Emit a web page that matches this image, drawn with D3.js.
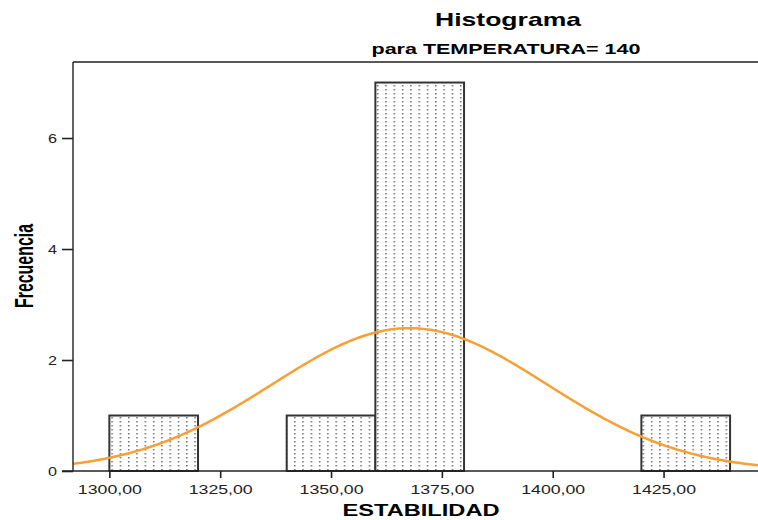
<!DOCTYPE html>
<html>
<head>
<meta charset="utf-8">
<script src="https://cdn.jsdelivr.net/npm/d3@7"></script>
<style>
  body { margin: 0; background: #fff; }
  text { font-family: "Liberation Sans", Arial, sans-serif; }
</style>
</head>
<body>
<div id="visual"></div>
<script>
// Histogram bins (lower edge, upper edge) and counts
const binStart = [1300, 1340, 1360, 1420];
const binEnd = [1320, 1360, 1380, 1440];
const counts = [1, 1, 7, 1];
const xTicks = [1300, 1325, 1350, 1375, 1400, 1425];
const yTicks = [0, 2, 4, 6];
// Normal curve parameters
const meanVal = 1367.7;
const sdVal = 31;

function drawChart() {
  const width = 758, height = 520;
  const left = 73, top = 62, bottom = 471, right = 758;

  const svg = d3.select("#visual").append("svg")
    .attr("width", width).attr("height", height);

  const x = d3.scaleLinear().domain([1291.8, 1446.3]).range([left, right]);
  const y = d3.scaleLinear().domain([0, 7.37]).range([bottom, top]);

  // dotted fill pattern
  const defs = svg.append("defs");
  const pat = defs.append("pattern")
    .attr("id", "dots")
    .attr("patternUnits", "userSpaceOnUse")
    .attr("width", 8.3).attr("height", 4)
    .attr("x", x(1300) + 2);
  pat.append("rect").attr("width", 8.3).attr("height", 4).attr("fill", "#fff");
  pat.append("rect").attr("x", 0).attr("y", 1).attr("width", 1.5).attr("height", 1.5).attr("fill", "#707070");

  const data = binStart.map((s, i) => ({ s: s, e: binEnd[i], c: counts[i] }));

  svg.selectAll("rect.bar")
    .data(data)
    .enter()
    .append("rect")
    .attr("class", "bar")
    .attr("x", d => x(d.s))
    .attr("y", d => y(d.c))
    .attr("width", d => x(d.e) - x(d.s))
    .attr("height", d => y(0) - y(d.c))
    .attr("fill", "url(#dots)")
    .attr("stroke", "#333")
    .attr("stroke-width", 2);

  // normal curve
  const n = d3.sum(counts);
  const binW = 20;
  const pts = d3.range(1291.8, 1446.4, 0.5).map(v => [v,
    n * binW / (sdVal * Math.sqrt(2 * Math.PI)) * Math.exp(-Math.pow(v - meanVal, 2) / (2 * sdVal * sdVal))]);
  svg.append("path")
    .datum(pts)
    .attr("fill", "none")
    .attr("stroke", "#f7a035")
    .attr("stroke-width", 2.5)
    .attr("d", d3.line().x(d => x(d[0])).y(d => y(d[1])));

  // frame top line
  svg.append("line")
    .attr("x1", left).attr("x2", right).attr("y1", top).attr("y2", top)
    .attr("stroke", "#222").attr("stroke-width", 1.4);

  // axes
  const yAxis = svg.append("g")
    .attr("transform", `translate(${left},0)`)
    .call(d3.axisLeft(y).tickValues(yTicks).tickSize(11).tickPadding(5).tickFormat(d3.format("d")));
  yAxis.select(".domain").remove();
  yAxis.append("line").attr("x1", 0).attr("x2", 0).attr("y1", top).attr("y2", bottom)
    .attr("stroke", "#222").attr("stroke-width", 1.4);
  yAxis.selectAll(".tick text")
    .attr("textLength", 9).attr("lengthAdjust", "spacingAndGlyphs");

  const xAxis = svg.append("g")
    .attr("transform", `translate(0,${bottom})`)
    .call(d3.axisBottom(x).tickValues(xTicks).tickSize(7).tickPadding(6)
      .tickFormat(d => d3.format(".2f")(d).replace(".", ",")));
  xAxis.select(".domain").remove();
  xAxis.append("line").attr("x1", left - 11).attr("x2", right).attr("y1", 0).attr("y2", 0)
    .attr("stroke", "#222").attr("stroke-width", 1.4);
  xAxis.selectAll(".tick text")
    .attr("textLength", 64).attr("lengthAdjust", "spacingAndGlyphs");

  svg.selectAll(".tick line").attr("stroke", "#222").attr("stroke-width", 1.6);
  svg.selectAll(".tick text")
    .attr("fill", "#222")
    .style("font-family", "'Liberation Sans', Arial, sans-serif")
    .style("font-size", "13.5px");

  // titles
  svg.append("text")
    .attr("x", 508).attr("y", 26)
    .attr("text-anchor", "middle")
    .attr("textLength", 146).attr("lengthAdjust", "spacingAndGlyphs")
    .style("font-size", "19px").style("font-weight", "bold")
    .text("Histograma");
  svg.append("text")
    .attr("x", 506).attr("y", 54)
    .attr("text-anchor", "middle")
    .attr("textLength", 269).attr("lengthAdjust", "spacingAndGlyphs")
    .style("font-size", "15px").style("font-weight", "bold")
    .text("para TEMPERATURA= 140");

  svg.append("text")
    .attr("x", 421).attr("y", 516)
    .attr("text-anchor", "middle")
    .attr("textLength", 157).attr("lengthAdjust", "spacingAndGlyphs")
    .style("font-size", "16.5px").style("font-weight", "bold")
    .text("ESTABILIDAD");

  svg.append("text")
    .attr("transform", "translate(33,266) rotate(-90)")
    .attr("text-anchor", "middle")
    .attr("textLength", 84).attr("lengthAdjust", "spacingAndGlyphs")
    .style("font-family", "'Liberation Sans Narrow', 'Liberation Sans', Arial, sans-serif")
    .style("font-size", "25px").style("font-weight", "bold")
    .text("Frecuencia");
}

drawChart();
</script>
</body>
</html>
